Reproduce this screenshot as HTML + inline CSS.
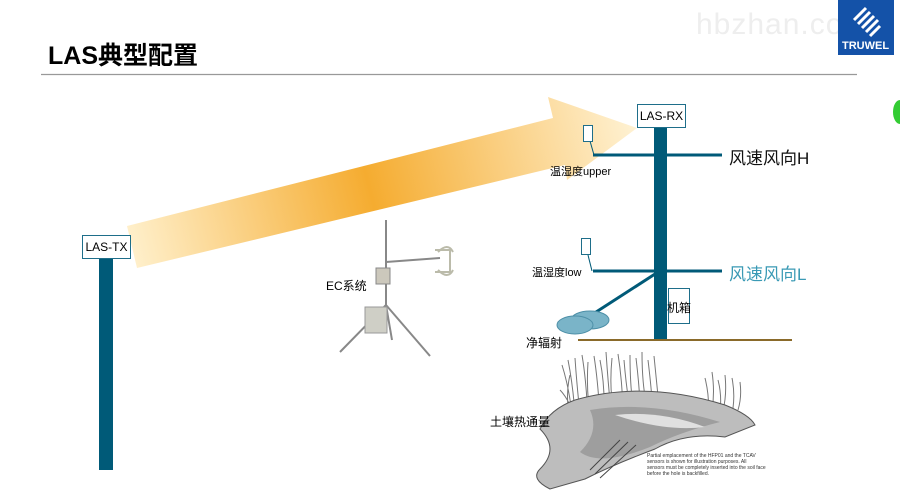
<!DOCTYPE html>
<html><head><meta charset="utf-8"><style>
body{margin:0;width:900px;height:490px;background:#fff;overflow:hidden;position:relative;font-family:"Liberation Sans","Noto Sans CJK SC",sans-serif}
.a{position:absolute;white-space:nowrap}
</style></head><body>
<svg class="a" style="left:0;top:0" width="900" height="490">
<defs>
<linearGradient id="g" x1="130" y1="250" x2="640" y2="120" gradientUnits="userSpaceOnUse">
<stop offset="0" stop-color="#fff0cc"/><stop offset="0.47" stop-color="#f5ac30"/><stop offset="1" stop-color="#fff3d6"/>
</linearGradient>
</defs>
<line x1="41" y1="74.5" x2="857" y2="74.5" stroke="#999" stroke-width="1.2"/>
<polygon points="127,226 553,118 548,97 637,128 567,180 565,165 137,268" fill="url(#g)"/>
<rect x="99" y="258" width="14" height="212" fill="#005a78"/>
<rect x="654" y="126" width="13" height="214" fill="#005a78"/>
<line x1="593" y1="155" x2="722" y2="155" stroke="#005a78" stroke-width="3"/>
<line x1="593" y1="271" x2="722" y2="271" stroke="#005a78" stroke-width="3"/>
<polyline points="590,141 594,155" fill="none" stroke="#005a78" stroke-width="1"/>
<polyline points="588,255 592,271" fill="none" stroke="#005a78" stroke-width="1"/>
<rect x="583.5" y="125.5" width="9" height="16" fill="#fff" stroke="#1e6e8a"/>
<rect x="581.5" y="238.5" width="9" height="16" fill="#fff" stroke="#1e6e8a"/>
<line x1="655" y1="274" x2="593" y2="314" stroke="#005a78" stroke-width="3"/>
<ellipse cx="590" cy="320" rx="19" ry="9" fill="#7ab4c8" stroke="#4e90a8"/>
<ellipse cx="575" cy="325" rx="18" ry="9" fill="#7ab4c8" stroke="#4e90a8"/>
<line x1="578" y1="340" x2="792" y2="340" stroke="#8a6a2a" stroke-width="2"/>
<rect x="668.5" y="288.5" width="21" height="35" fill="#fff" stroke="#1e6e8a"/>
<g stroke="#888" fill="none" stroke-width="2">
<line x1="386" y1="220" x2="386" y2="330"/>
<line x1="386" y1="305" x2="340" y2="352"/>
<line x1="386" y1="305" x2="430" y2="356"/>
<line x1="386" y1="305" x2="392" y2="340"/>
<line x1="386" y1="262" x2="440" y2="258"/>
<path d="M435 250 h15 v22 h-15 M438 252 q10 -10 15 0 M438 270 q10 10 15 0" stroke="#bba"/>
</g>
<rect x="376" y="268" width="14" height="16" fill="#ccc8bc" stroke="#888"/>
<rect x="365" y="307" width="22" height="26" fill="#cfcfc6" stroke="#999"/>
<g stroke="#777" fill="none" stroke-width="1">
<path d="M562 365 q8 25 12 65 M568 360 q6 30 8 70 M575 358 q2 30 6 65 M582 355 q5 30 6 70 M588 362 q-2 30 3 60 M594 356 q4 25 6 62 M600 360 q5 25 4 55 M606 352 q2 30 5 60 M612 358 q-3 30 2 55 M618 354 q4 25 5 55 M624 360 q2 25 6 50 M630 355 q0 30 3 50 M636 358 q3 25 4 45 M642 352 q0 30 4 50 M648 360 q3 25 4 40 M654 356 q2 20 4 40 M560 390 q10 10 20 40 M570 375 q-5 20 0 45 M705 378 q5 20 3 40 M712 372 q3 20 0 38 M718 380 q4 15 2 32 M725 375 q2 20 -2 35 M732 378 q3 15 1 30 M740 382 q2 15 -2 28"/>
</g>
<path d="M575 400 q70 -20 150 5 q25 10 30 20 l-30 12 q-40 -5 -70 12 q-40 15 -70 30 l-35 10 q-20 -10 -10 -20 q20 -20 0 -40 q10 -20 35 -29z" fill="#bdbdbd" stroke="#555"/>
<path d="M590 410 q60 -10 130 12 q-40 10 -70 25 q-50 20 -70 5 q20 -20 10 -42z" fill="#9e9e9e"/>
<path d="M615 415 q45 -5 90 12 q-40 5 -90 -12z" fill="#e0e0e0"/>
<g stroke="#444" stroke-width="1"><line x1="590" y1="470" x2="620" y2="440"/><line x1="595" y1="474" x2="628" y2="442"/><line x1="600" y1="478" x2="636" y2="445"/></g>
</svg>
<div class="a" style="left:48px;top:36px;font-size:25px;font-weight:bold;color:#000">LAS典型配置</div>
<div class="a" style="left:696px;top:8px;font-size:30px;color:#eee;letter-spacing:1px">hbzhan.com</div>
<div class="a" style="left:838px;top:0;width:56px;height:55px;background:#1452a8"></div>
<svg class="a" style="left:848px;top:4px" width="36" height="34"><g stroke="#fff" stroke-width="3"><line x1="6" y1="16" x2="18" y2="4"/><line x1="10" y1="20" x2="22" y2="8"/><line x1="14" y1="24" x2="26" y2="12"/><line x1="18" y1="28" x2="30" y2="16"/><line x1="22" y1="32" x2="32" y2="22"/></g></svg>
<div class="a" style="left:842px;top:40px;font-size:11px;font-weight:bold;color:#fff">TRUWEL</div>
<div class="a" style="left:893px;top:100px;width:14px;height:24px;border-radius:50%;background:#3c3;"></div>
<div class="a" style="left:82px;top:235px;width:47px;height:22px;border:1px solid #1e6e8a;background:#fff;font-size:12px;line-height:22px;text-align:center">LAS-TX</div>
<div class="a" style="left:637px;top:104px;width:47px;height:22px;border:1px solid #1e6e8a;background:#fff;font-size:12px;line-height:22px;text-align:center">LAS-RX</div>
<div class="a" style="left:729px;top:144px;font-size:17px;color:#111">风速风向H</div>
<div class="a" style="left:729px;top:260px;font-size:17px;color:#3a9ab5">风速风向L</div>
<div class="a" style="left:550px;top:163px;font-size:11px">温湿度upper</div>
<div class="a" style="left:532px;top:264px;font-size:11px">温湿度low</div>
<div class="a" style="left:667px;top:299px;font-size:12px">机箱</div>
<div class="a" style="left:526px;top:334px;font-size:12px">净辐射</div>
<div class="a" style="left:326px;top:277px;font-size:12px">EC系统</div>
<div class="a" style="left:490px;top:413px;font-size:12px">土壤热通量</div>
<div class="a" style="left:647px;top:453px;font-size:5px;color:#333;line-height:6px">Partial emplacement of the HFP01 and the TCAV<br>sensors is shown for illustration purposes. All<br>sensors must be completely inserted into the soil face<br>before the hole is backfilled.</div>
</body></html>
